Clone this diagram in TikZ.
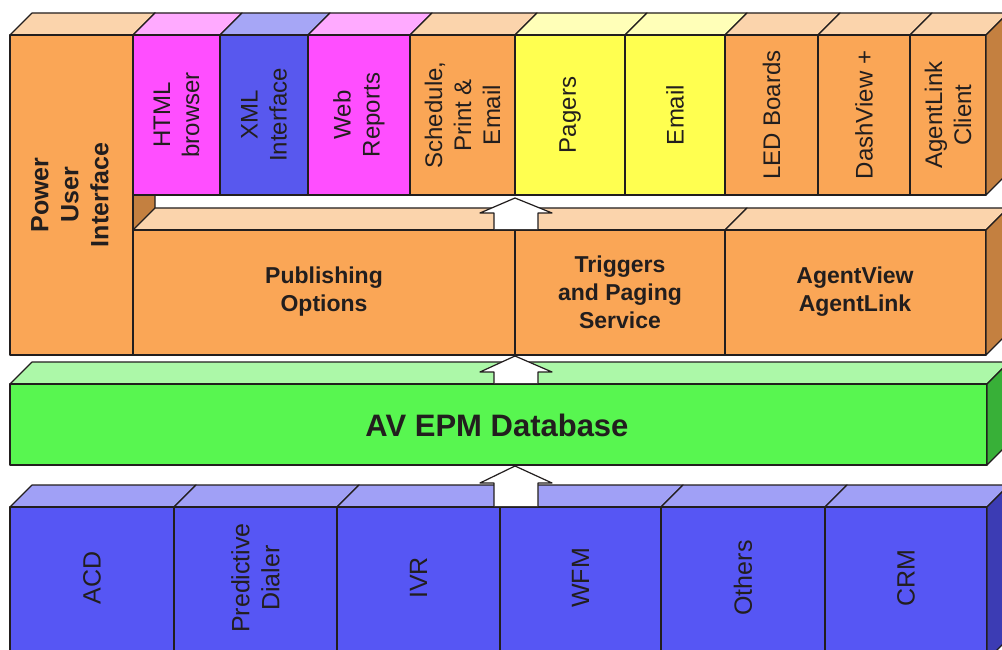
\documentclass[tikz,border=0pt]{standalone}
\usepackage{fontspec}
\setmainfont{Liberation Sans}
\definecolor{orF}{RGB}{250,166,86}
\definecolor{orT}{RGB}{251,212,172}
\definecolor{orS}{RGB}{196,128,64}
\definecolor{mgF}{RGB}{255,78,255}
\definecolor{mgT}{RGB}{255,170,255}
\definecolor{xbF}{RGB}{88,88,238}
\definecolor{xbT}{RGB}{166,166,246}
\definecolor{ylF}{RGB}{255,255,80}
\definecolor{ylT}{RGB}{255,255,184}
\definecolor{grF}{RGB}{88,246,80}
\definecolor{grT}{RGB}{172,248,168}
\definecolor{grS}{RGB}{56,176,56}
\definecolor{bbF}{RGB}{86,86,244}
\definecolor{bbT}{RGB}{160,160,246}
\definecolor{bbS}{RGB}{60,60,180}
\definecolor{ink}{RGB}{34,30,30}
% cell: x1, x2, ytop, ybot, front colour, top colour
\newcommand\cellbox[6]{%
  \filldraw[face, fill=#6] (#1,#3) -- (#1+22,#3-22) -- (#2+22,#3-22) -- (#2,#3) -- cycle;
  \filldraw[face, fill=#5] (#1,#3) rectangle (#2,#4);}
% side face: x, ytop, ybot, colour
\newcommand\sideface[4]{%
  \filldraw[face, fill=#4] (#1,#2) -- (#1+22,#2-22) -- (#1+22,#3-22) -- (#1,#3) -- cycle;}
% block arrow: tip y, wing y, base y
\newcommand\blockarrow[3]{%
  \fill[white] (515,#1) -- (552,#2) -- (538,#2) -- (538,#3) -- (494,#3) -- (494,#2) -- (480,#2) -- cycle;
  \draw[face] (494,#3) -- (494,#2) -- (480,#2) -- (515,#1) -- (552,#2) -- (538,#2) -- (538,#3);}
\begin{document}
\begin{tikzpicture}[x=1pt,y=-1pt,line join=round,
  face/.style={draw=ink, line width=1.2pt},
  vlbl/.style={font=\fontsize{24}{29}\selectfont, align=center, rotate=90, text=ink},
  blbl/.style={font=\fontsize{23}{28}\selectfont\bfseries, align=center, text=ink}]
\useasboundingbox (0,0) rectangle (1002,650);
\clip (0,0) rectangle (1002,650);
\fill[white] (0,0) rectangle (1002,650);

% Power User Interface column
\sideface{133}{35}{355}{orS}
\cellbox{10}{133}{35}{355}{orF}{orT}

% top row
\cellbox{133}{220}{35}{195}{mgF}{mgT}
\cellbox{220}{308}{35}{195}{xbF}{xbT}
\cellbox{308}{410}{35}{195}{mgF}{mgT}
\cellbox{410}{515}{35}{195}{orF}{orT}
\cellbox{515}{625}{35}{195}{ylF}{ylT}
\cellbox{625}{725}{35}{195}{ylF}{ylT}
\cellbox{725}{818}{35}{195}{orF}{orT}
\cellbox{818}{910}{35}{195}{orF}{orT}
\cellbox{910}{986}{35}{195}{orF}{orT}
\sideface{986}{35}{195}{orS}

% middle row
\cellbox{133}{515}{230}{355}{orF}{orT}
\cellbox{515}{725}{230}{355}{orF}{orT}
\cellbox{725}{986}{230}{355}{orF}{orT}
\sideface{986}{230}{355}{orS}
\blockarrow{198}{213}{229}

% database bar
\cellbox{10}{987}{384}{465}{grF}{grT}
\sideface{987}{384}{465}{grS}
\blockarrow{356}{372}{383}

% bottom row
\cellbox{10}{174}{507}{660}{bbF}{bbT}
\cellbox{174}{337}{507}{660}{bbF}{bbT}
\cellbox{337}{500}{507}{660}{bbF}{bbT}
\cellbox{500}{661}{507}{660}{bbF}{bbT}
\cellbox{661}{825}{507}{660}{bbF}{bbT}
\cellbox{825}{987}{507}{660}{bbF}{bbT}
\sideface{987}{507}{660}{bbS}
\blockarrow{466}{483}{506}

% labels
\node[vlbl, font=\fontsize{25}{30}\selectfont\bfseries] (pui) at (70,195) {Power\\User\\Interface};
\node[vlbl] (html) at (176.5,115) {HTML\\browser};
\node[vlbl] (xml) at (264,115) {XML\\Interface};
\node[vlbl] (web) at (359,115) {Web\\Reports};
\node[vlbl] (sched) at (462.5,115) {Schedule,\\Print \&\\Email};
\node[vlbl] (pagers) at (570,115) {Pagers};
\node[vlbl] (email) at (675,115) {Email};
\node[vlbl] (led) at (771.5,115) {LED Boards};
\node[vlbl] (dash) at (864,115) {DashView +};
\node[vlbl] (alink) at (948,115) {AgentLink\\Client};

\node[blbl] (pub) at (324,292) {Publishing\\Options};
\node[blbl] (trig) at (620,292) {Triggers\\and Paging\\Service};
\node[blbl] (aview) at (855,292) {AgentView\\AgentLink};

\node[blbl, font=\fontsize{31}{36}\selectfont\bfseries] (db) at (497,425) {AV EPM Database};

\node[vlbl, font=\fontsize{25}{30}\selectfont] (acd) at (92,578) {ACD};
\node[vlbl, font=\fontsize{25}{30}\selectfont] (pred) at (255.5,578) {Predictive\\Dialer};
\node[vlbl, font=\fontsize{25}{30}\selectfont] (ivr) at (418.5,578) {IVR};
\node[vlbl, font=\fontsize{25}{30}\selectfont] (wfm) at (580.5,578) {WFM};
\node[vlbl, font=\fontsize{25}{30}\selectfont] (others) at (743,578) {Others};
\node[vlbl, font=\fontsize{25}{30}\selectfont] (crm) at (906,578) {CRM};
\end{tikzpicture}
\end{document}
